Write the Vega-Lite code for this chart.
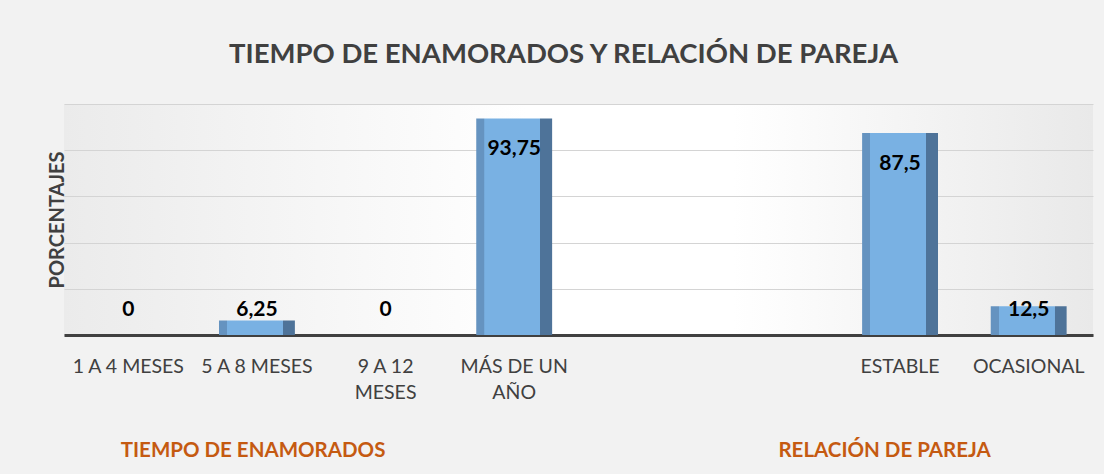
{
  "$schema": "https://vega.github.io/schema/vega-lite/v6.json",
  "width": 1029,
  "height": 231,
  "autosize": "none",
  "padding": {"left": 64, "top": 104, "right": 11, "bottom": 139},
  "background": "#f2f2f2",
  "config": {
    "font": "Lato",
    "view": {
      "stroke": null,
      "fill": {"gradient": "linear", "x1": 0, "x2": 1, "y1": 0, "y2": 0,
        "stops": [{"offset": 0, "color": "#ebebeb"}, {"offset": 0.45, "color": "#ffffff"}, {"offset": 0.65, "color": "#ffffff"}, {"offset": 1, "color": "#e9e9e9"}]}
    },
    "locale": {"number": {"decimal": ",", "thousands": ".", "grouping": [3], "currency": ["", " €"]}}
  },
  "title": {
    "text": "TIEMPO DE ENAMORADOS Y RELACIÓN DE PAREJA",
    "fontSize": 27.5,
    "fontWeight": "bold",
    "color": "#404040",
    "anchor": "middle",
    "offset": 36,
    "dx": -15
  },
  "datasets": {
    "bars": [
      {"categoria": "1 A 4 MESES", "porcentaje": 0},
      {"categoria": "5 A 8 MESES", "porcentaje": 6.25},
      {"categoria": "9 A 12 MESES", "porcentaje": 0},
      {"categoria": "MÁS DE UN AÑO", "porcentaje": 93.75},
      {"categoria": "ESTABLE", "porcentaje": 87.5},
      {"categoria": "OCASIONAL", "porcentaje": 12.5}
    ],
    "groups": [
      {"grupo": "TIEMPO DE ENAMORADOS", "pos": 1.47},
      {"grupo": "RELACIÓN DE PAREJA", "pos": 6.38}
    ]
  },
  "layer": [
    {
      "data": {"name": "bars"},
      "encoding": {
        "x": {
          "field": "categoria", "type": "nominal", "sort": null,
          "scale": {
            "domain": ["1 A 4 MESES", "5 A 8 MESES", "9 A 12 MESES", "MÁS DE UN AÑO", "gap1", "gap2", "ESTABLE", "OCASIONAL"],
            "paddingInner": 0.41, "paddingOuter": 0.205
          },
          "axis": {
            "title": null,
            "labelAngle": 0,
            "labelFontSize": 19.5,
            "labelColor": "#404040",
            "labelPadding": 22,
            "labelLineHeight": 26,
            "labelBaseline": "top",
            "labelLimit": 300,
            "ticks": false,
            "domainColor": "#404040",
            "domainWidth": 3,
            "labelExpr": "datum.value == '9 A 12 MESES' ? ['9 A 12', 'MESES'] : datum.value == 'MÁS DE UN AÑO' ? ['MÁS DE UN', 'AÑO'] : (datum.value == 'gap1' || datum.value == 'gap2') ? '' : datum.value"
          }
        },
        "y": {
          "field": "porcentaje", "type": "quantitative",
          "scale": {"domain": [0, 100]},
          "axis": {
            "title": "PORCENTAJES",
            "titleFontSize": 20,
            "titleFontWeight": "bold",
            "titleColor": "#404040",
            "titlePadding": -3,
            "labels": false,
            "ticks": false,
            "domain": false,
            "grid": true,
            "gridColor": "#d4d4d4",
            "values": [0, 20, 40, 60, 80, 100]
          }
        }
      },
      "layer": [
        {
          "mark": {
            "type": "bar",
            "fill": {"gradient": "linear", "x1": 0, "x2": 1, "y1": 0, "y2": 0,
              "stops": [{"offset": 0, "color": "#6593c0"}, {"offset": 0.105, "color": "#6593c0"}, {"offset": 0.11, "color": "#79b1e3"}, {"offset": 0.84, "color": "#79b1e3"}, {"offset": 0.845, "color": "#4e7399"}, {"offset": 1, "color": "#4e7399"}]}
          }
        },
        {
          "transform": [{"filter": "datum.porcentaje > 50"}],
          "mark": {"type": "text", "fontSize": 21, "fontWeight": "bold", "color": "#000000", "baseline": "middle", "dy": 31},
          "encoding": {"text": {"field": "porcentaje", "type": "quantitative", "format": ".2~f"}}
        },
        {
          "transform": [{"filter": "datum.porcentaje <= 50"}],
          "mark": {"type": "text", "fontSize": 21, "fontWeight": "bold", "color": "#000000", "baseline": "middle"},
          "encoding": {
            "y": {"datum": 10.8, "type": "quantitative"},
            "text": {"field": "porcentaje", "type": "quantitative", "format": ".2~f"}
          }
        }
      ]
    },
    {
      "data": {"name": "groups"},
      "mark": {"type": "text", "fontSize": 20.5, "fontWeight": "bold", "color": "#c55a11", "baseline": "middle"},
      "encoding": {
        "x": {"field": "pos", "type": "quantitative", "scale": {"domain": [0, 8]}, "axis": null},
        "y": {"datum": -50.2, "type": "quantitative"},
        "text": {"field": "grupo"}
      }
    }
  ],
  "resolve": {"scale": {"x": "independent"}}
}
